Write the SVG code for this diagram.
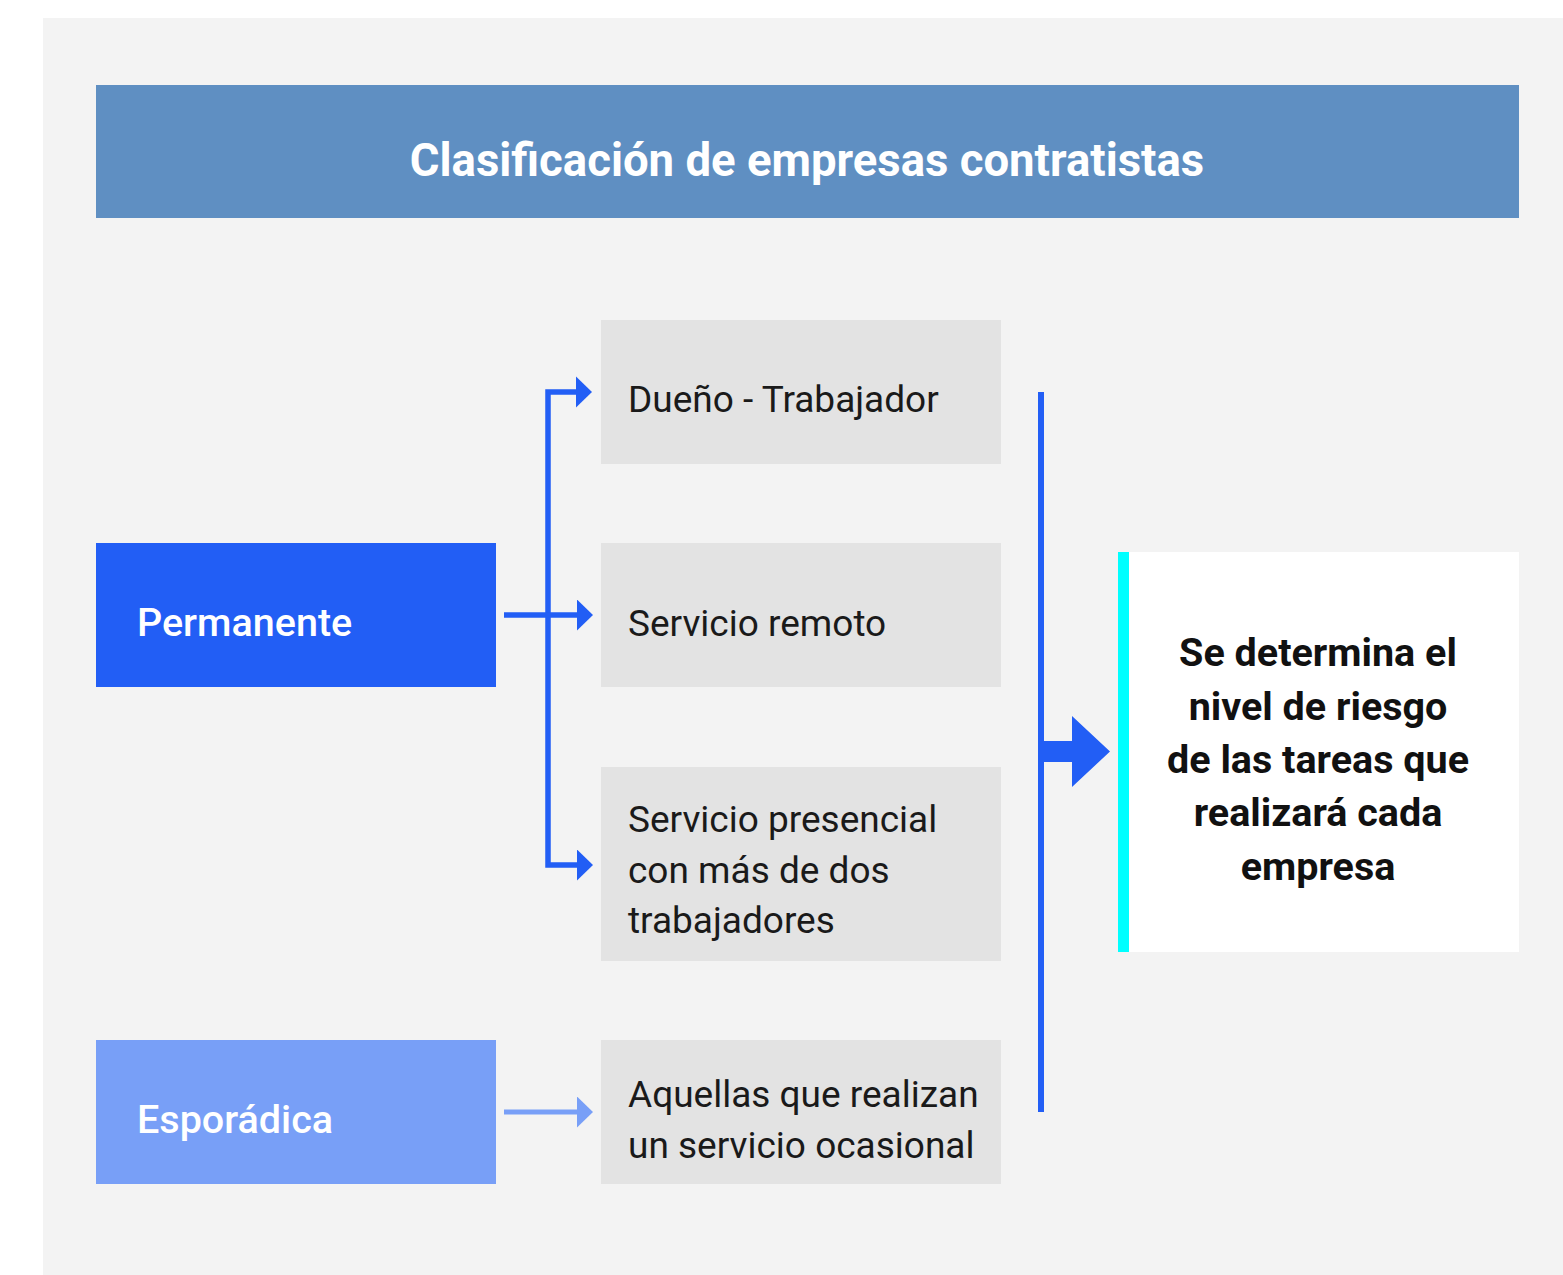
<svg xmlns="http://www.w3.org/2000/svg" width="1563" height="1275" viewBox="0 0 1563 1275">
<style>
.t{font-family:Roboto,"Liberation Sans",sans-serif}
.box{fill:#e3e3e3}
.bt{font-size:37px;fill:#1a1a1a}
.rt{font-size:39.5px;font-weight:bold;fill:#111;text-anchor:middle}
.lt{font-size:39.5px;font-weight:500;fill:#fff}
.c{fill:none;stroke:#225ef5;stroke-width:5.5}
</style>
<defs>
<marker id="ah" markerUnits="userSpaceOnUse" markerWidth="20" markerHeight="34" refX="0" refY="15.5" orient="auto">
<path d="M0,0 L16,15.5 L0,31 Z" fill="#225ef5"/>
</marker>
<marker id="ah2" markerUnits="userSpaceOnUse" markerWidth="20" markerHeight="34" refX="0" refY="15.5" orient="auto">
<path d="M0,0 L16,15.5 L0,31 Z" fill="#789ff7"/>
</marker>
</defs>
<rect x="0" y="0" width="1563" height="1275" fill="#ffffff"/>
<rect x="43" y="18" width="1520" height="1257" fill="#f3f3f3"/>
<g id="title">
<rect x="96" y="85" width="1423" height="133" fill="#5f8fc2"/>
<text class="t" x="807" y="176" font-size="45.5" font-weight="bold" fill="#fff" text-anchor="middle">Clasificación de empresas contratistas</text>
</g>
<g id="permanente">
<rect x="96" y="543" width="400" height="144" fill="#225ef5"/>
<text class="t lt" x="137" y="636">Permanente</text>
</g>
<g id="esporadica">
<rect x="96" y="1040" width="400" height="144" fill="#789ff7"/>
<text class="t lt" x="137" y="1133">Esporádica</text>
</g>
<g id="dueno">
<rect class="box" x="601" y="320" width="400" height="144"/>
<text class="t bt" x="628" y="412">Dueño - Trabajador</text>
</g>
<g id="remoto">
<rect class="box" x="601" y="543" width="400" height="144"/>
<text class="t bt" x="628" y="636">Servicio remoto</text>
</g>
<g id="presencial">
<rect class="box" x="601" y="767" width="400" height="194"/>
<text class="t bt" x="628" y="832">Servicio presencial</text>
<text class="t bt" x="628" y="883">con más de dos</text>
<text class="t bt" x="628" y="933">trabajadores</text>
</g>
<g id="ocasional">
<rect class="box" x="601" y="1040" width="400" height="144"/>
<text class="t bt" x="628" y="1107">Aquellas que realizan</text>
<text class="t bt" x="628" y="1158">un servicio ocasional</text>
</g>
<g id="resultado">
<rect x="1118" y="552" width="401" height="400" fill="#ffffff"/>
<rect x="1118" y="552" width="11" height="400" fill="#00ffff"/>
<text class="t rt" x="1318" y="666">Se determina el</text>
<text class="t rt" x="1318" y="720">nivel de riesgo</text>
<text class="t rt" x="1318" y="773">de las tareas que</text>
<text class="t rt" x="1318" y="826">realizará cada</text>
<text class="t rt" x="1318" y="880">empresa</text>
</g>
<g id="connectors">
<path class="c" d="M577,392 H548 V865 H577" marker-end="url(#ah)"/>
<path d="M576,376.5 L592,392 L576,407.5 Z" fill="#225ef5"/>
<path class="c" d="M504,615 H577" marker-end="url(#ah)"/>
<path d="M504,1112 H577" fill="none" stroke="#789ff7" stroke-width="5" marker-end="url(#ah2)"/>
<path d="M1041,392 V1112" fill="none" stroke="#225ef5" stroke-width="6"/>
<path d="M1041,741 H1072 V716 L1110,751.5 L1072,787 V762 H1041 Z" fill="#225ef5"/>
</g>
</svg>
